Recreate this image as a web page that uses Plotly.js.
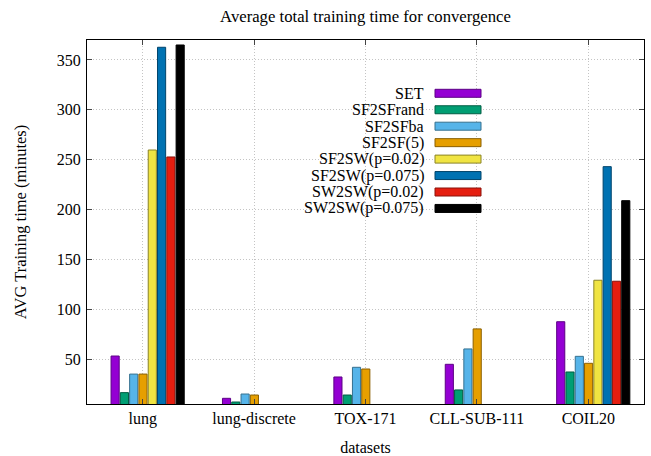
<!DOCTYPE html>
<html>
<head>
<meta charset="utf-8">
<script src="https://cdn.plot.ly/plotly-3.0.1.min.js"></script>
<style>
  html, body { margin: 0; padding: 0; background: #fff; }
  #chart { width: 651px; height: 456px; }
</style>
</head>
<body>
<div id="chart"></div>
<script>
// Datasets along the x axis
const datasets = ["lung", "lung-discrete", "TOX-171", "CLL-SUB-111", "COIL20"];

// Average training time (minutes) per method; null = not run
const SET        = [53.1, 10.7, 32.1, 44.8, 87.5];
const SF2SFrand  = [16.4, 7.0, 14.0, 19.1, 37.1];
const SF2SFba    = [35.0, 15.0, 41.8, 60.2, 52.8];
const SF2SF5     = [35.0, 14.0, 40.1, 80.3, 45.8];
const SF2SW_002  = [259.7, null, null, null, 129.1];
const SF2SW_0075 = [362.7, null, null, null, 243.0];
const SW2SW_002  = [252.7, null, null, null, 128.1];
const SW2SW_0075 = [365.0, null, null, null, 208.9];

const seriesNames = ["SET", "SF2SFrand", "SF2SFba", "SF2SF(5)",
  "SF2SW(p=0.02)", "SF2SW(p=0.075)", "SW2SW(p=0.02)", "SW2SW(p=0.075)"];
const seriesValues = [SET, SF2SFrand, SF2SFba, SF2SF5,
  SF2SW_002, SF2SW_0075, SW2SW_002, SW2SW_0075];

const fills   = ["#9400d3", "#009e73", "#56b4e9", "#e69f00",
                 "#f0e442", "#0072b2", "#e51e10", "#000000"];
const borders = ["#5c0085", "#005c43", "#35708f", "#8a5f00",
                 "#8a8326", "#00446b", "#8a120a", "#000000"];

const serif = "Liberation Serif, Times New Roman, serif";

// clustered bars: fixed step inside each category slot
const step = 0.0834, barW = 0.073, start = -0.284;

const traces = seriesNames.map((name, i) => ({
  type: "bar",
  name: name,
  x: datasets,
  y: seriesValues[i],
  offset: start + i * step,
  width: barW,
  marker: { color: fills[i], line: { color: borders[i], width: 1 } },
  showlegend: false,
  hoverinfo: "x+y+name"
}));

// key drawn as right-aligned labels with sample boxes
const plotTop = 40, plotBottom = 404, plotLeft = 87, plotRight = 644;
const toPx = y => (plotBottom - y) / (plotBottom - plotTop);
const toPxX = x => (x - plotLeft) / (plotRight - plotLeft);
const keyRow0 = 93.3, keyStep = 16.45;
const annotations = [], shapes = [];
seriesNames.forEach((name, i) => {
  const yc = keyRow0 + i * keyStep;
  annotations.push({
    xref: "paper", yref: "paper",
    x: toPxX(426), y: toPx(yc),
    xanchor: "right", yanchor: "middle",
    text: name, showarrow: false,
    font: { family: serif, size: 16, color: "#000" }
  });
  shapes.push({
    type: "rect", xref: "paper", yref: "paper",
    x0: toPxX(435), x1: toPxX(481),
    y0: toPx(yc - 4), y1: toPx(yc + 4),
    fillcolor: fills[i], line: { color: borders[i], width: 1 }
  });
});

const gridStyle = { showgrid: true, gridcolor: "#c4c4c4", griddash: "1px,2px", gridwidth: 1 };

const layout = {
  width: 651, height: 456,
  margin: { l: plotLeft, r: 651 - plotRight, t: plotTop, b: 456 - plotBottom },
  paper_bgcolor: "#fff", plot_bgcolor: "#fff",
  barmode: "overlay",
  title: {
    text: "Average total training time for convergence",
    font: { family: serif, size: 16.7, color: "#000" },
    x: 0.5, xanchor: "center", xref: "paper",
    y: 1 - 16 / 456, yanchor: "middle"
  },
  xaxis: Object.assign({
    type: "category",
    range: [-0.5, 4.5],
    showline: true, linecolor: "#000", linewidth: 1, mirror: "ticks",
    ticks: "inside", ticklen: 5, tickcolor: "#444",
    tickfont: { family: serif, size: 16, color: "#000" },
    title: { text: "datasets", font: { family: serif, size: 16, color: "#000" }, standoff: 14 },
    fixedrange: true
  }, gridStyle),
  yaxis: Object.assign({
    range: [5, 370],
    tickvals: [50, 100, 150, 200, 250, 300, 350],
    showline: true, linecolor: "#000", linewidth: 1, mirror: "ticks",
    ticks: "inside", ticklen: 5, tickcolor: "#444",
    ticklabelstandoff: 2,
    zeroline: false,
    tickfont: { family: serif, size: 16, color: "#000" },
    title: { text: "AVG Training time (minutes)", font: { family: serif, size: 16.5, color: "#000" }, standoff: 26 },
    fixedrange: true
  }, gridStyle),
  annotations: annotations,
  shapes: shapes
};

Plotly.newPlot("chart", traces, layout, { displayModeBar: false, staticPlot: true });
</script>
</body>
</html>
